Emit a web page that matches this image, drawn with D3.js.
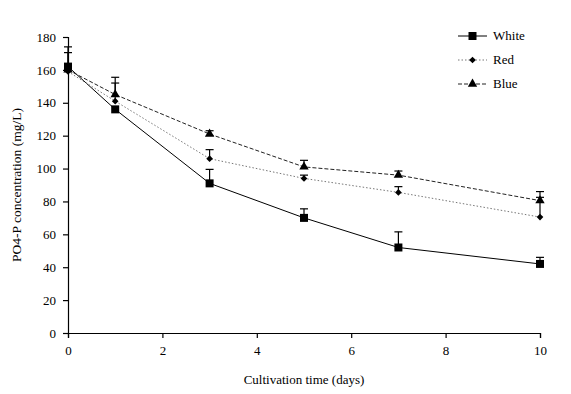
<!DOCTYPE html>
<html><head><meta charset="utf-8">
<script src="https://cdn.jsdelivr.net/npm/d3@7"></script>
<style>body{margin:0;background:#fff}svg{display:block}text{font-family:"Liberation Serif","Times New Roman",serif;fill:#000}</style>
</head><body><svg id="c" width="571" height="394"></svg>
<script>
const days = [0, 1, 3, 5, 7, 10];
const seriesNames = ["White", "Red", "Blue"];
const whiteVals = [162, 136, 91, 70, 52, 42];
const whiteErr  = [8.5, 0, 8.5, 5.5, 9.5, 4];
const redVals   = [159, 141, 106, 94, 85.5, 70.5];
const redErr    = [0, 11, 5.5, 2, 3.5, 12];
const blueVals  = [160, 145, 121, 101, 96, 80.5];
const blueErr   = [14, 10.5, 2, 4, 2.5, 5.5];
const xTicks = [0, 2, 4, 6, 8, 10];
const yTicks = [0, 20, 40, 60, 80, 100, 120, 140, 160, 180];

const FONT = '"Liberation Serif","Times New Roman",serif';
const svg = d3.select("#c");
const x = d3.scaleLinear().domain([0, 10]).range([68, 540]);
const y = d3.scaleLinear().domain([0, 180]).range([333, 37]);

const xAxis = svg.append("g").attr("transform", "translate(0,333)")
  .call(d3.axisBottom(x).tickValues(xTicks).tickSizeOuter(0).tickSize(5).tickPadding(8));
const yAxis = svg.append("g").attr("transform", "translate(68,0)")
  .call(d3.axisLeft(y).tickValues(yTicks).tickSizeOuter(0).tickSize(5).tickPadding(7));
[xAxis, yAxis].forEach(g => {
  g.attr("font-family", FONT).attr("font-size", 13);
  g.select(".domain").attr("stroke", "#000").attr("stroke-width", 1.2);
  g.selectAll(".tick line").attr("stroke", "#000").attr("stroke-width", 1.2);
  g.selectAll("text").style("font-family", FONT).style("font-size", "13px").attr("fill", "#000");
});

svg.append("text").attr("x", 304).attr("y", 384).attr("text-anchor", "middle")
  .style("font-size", "13px").text("Cultivation time (days)");
svg.append("text").attr("transform", "translate(21,185) rotate(-90)").attr("text-anchor", "middle")
  .style("font-size", "13.5px").text("PO4-P concentration (mg/L)");

const series = [
  {name: "White", vals: whiteVals, err: whiteErr, dash: null, color: "#000", sym: d3.symbolSquare, size: 64, rot: 0},
  {name: "Red", vals: redVals, err: redErr, dash: "1.5,2", color: "#777", sym: d3.symbolSquare, size: 22, rot: 45},
  {name: "Blue", vals: blueVals, err: blueErr, dash: "4,2", color: "#222", sym: d3.symbolTriangle, size: 38, rot: 0}
];

const line = d3.line().x(d => x(d[0])).y(d => y(d[1]));

series.forEach(s => {
  days.forEach((d, i) => {
    if (!s.err[i]) return;
    const cx = x(d), y0 = y(s.vals[i]), y1 = y(s.vals[i] + s.err[i]);
    svg.append("line").attr("x1", cx).attr("x2", cx).attr("y1", y0).attr("y2", y1).attr("stroke", "#000").attr("stroke-width", 1.2);
    svg.append("line").attr("x1", cx - 4).attr("x2", cx + 4).attr("y1", y1).attr("y2", y1).attr("stroke", "#000").attr("stroke-width", 1.2);
  });
});

series.forEach(s => {
  const pts = days.map((d, i) => [d, s.vals[i]]);
  svg.append("path").attr("d", line(pts)).attr("fill", "none").attr("stroke", s.color)
    .attr("stroke-width", 1).attr("stroke-dasharray", s.dash);
  svg.selectAll(null).data(pts).enter().append("path")
    .attr("d", d3.symbol().type(s.sym).size(s.size))
    .attr("transform", d => `translate(${x(d[0])},${y(d[1])}) rotate(${s.rot})`).attr("fill", "#000");
});

const leg = svg.append("g");
series.forEach((s, i) => {
  const ly = 36 + i * 24;
  leg.append("line").attr("x1", 458).attr("x2", 487).attr("y1", ly).attr("y2", ly)
    .attr("stroke", s.color).attr("stroke-width", 1).attr("stroke-dasharray", s.dash);
  leg.append("path").attr("d", d3.symbol().type(s.sym).size(s.size)).attr("transform", `translate(472.5,${ly}) rotate(${s.rot})`).attr("fill", "#000");
  leg.append("text").attr("x", 493).attr("y", ly + 4).style("font-size", "13px").text(s.name);
});
</script></body></html>
